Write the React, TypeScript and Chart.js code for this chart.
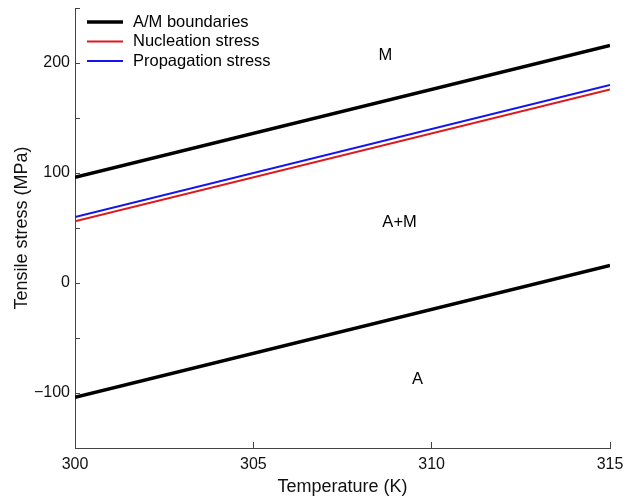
import React, { useEffect, useRef } from "react";
import { Chart, registerables } from "chart.js";

Chart.register(...registerables);

const temperatures = [300, 315];
const upperBoundary = [96, 216];
const lowerBoundary = [-104, 16];
const nucleationStress = [56, 176];
const propagationStress = [60, 180];

const regionLabels = ["M", "A+M", "A"];
const regionX = [308.7, 309.1, 309.6];
const regionY = [207, 55, -88];

const yTickValues = [-150, -100, -50, 0, 50, 100, 150, 200, 250];
const xTickValues = [300, 305, 310, 315];

const FONT = "'Liberation Sans', Arial, Helvetica, sans-serif";

const toPoints = (ys: number[]) => temperatures.map((x, i) => ({ x, y: ys[i] }));

const overlayPlugin = {
  id: "overlay",
  afterDatasetsDraw(chart: any) {
    const ctx = chart.ctx;
    const xs = chart.scales.x;
    const ys = chart.scales.y;
    ctx.save();
    ctx.fillStyle = "#000";
    ctx.font = `16.5px ${FONT}`;
    ctx.textAlign = "center";
    ctx.textBaseline = "middle";
    regionLabels.forEach((t, i) => {
      ctx.fillText(t, xs.getPixelForValue(regionX[i]), ys.getPixelForValue(regionY[i]));
    });
    const items = chart.data.datasets.filter((d: any) => d.showInLegend);
    const left = chart.chartArea.left + 12;
    let y = chart.chartArea.top + 14;
    items.forEach((d: any) => {
      ctx.strokeStyle = d.borderColor;
      ctx.lineWidth = d.legendWidth;
      ctx.beginPath();
      ctx.moveTo(left, y);
      ctx.lineTo(left + 36, y);
      ctx.stroke();
      ctx.fillStyle = "#000";
      ctx.textAlign = "left";
      ctx.textBaseline = "middle";
      ctx.font = `16.5px ${FONT}`;
      ctx.fillText(d.label, left + 46, y);
      y += 19.5;
    });
    ctx.restore();
  },
};

export default function App() {
  const ref = useRef<HTMLCanvasElement>(null);
  useEffect(() => {
    document.body.style.margin = "0";
    const canvas = ref.current!;
    const chart = new Chart(canvas, {
      type: "line",
      data: {
        datasets: [
          {
            label: "A/M boundaries",
            data: toPoints(upperBoundary),
            borderColor: "#000000",
            borderWidth: 3.5,
            pointRadius: 0,
            showInLegend: true,
            legendWidth: 3.5,
          } as any,
          {
            label: "Nucleation stress",
            data: toPoints(nucleationStress),
            borderColor: "#e0181c",
            borderWidth: 2,
            pointRadius: 0,
            showInLegend: true,
            legendWidth: 2,
          } as any,
          {
            label: "Propagation stress",
            data: toPoints(propagationStress),
            borderColor: "#1414f0",
            borderWidth: 2,
            pointRadius: 0,
            showInLegend: true,
            legendWidth: 2,
          } as any,
          {
            label: "A/M boundary (lower)",
            data: toPoints(lowerBoundary),
            borderColor: "#000000",
            borderWidth: 3.5,
            pointRadius: 0,
            showInLegend: false,
          } as any,
        ],
      },
      options: {
        animation: false,
        responsive: false,
        maintainAspectRatio: false,
        layout: { padding: { top: 8, right: 22, left: 0, bottom: 0 } },
        plugins: { legend: { display: false }, tooltip: { enabled: false } },
        scales: {
          x: {
            type: "linear",
            min: 300,
            max: 315,
            afterBuildTicks: (s: any) => {
              s.ticks = xTickValues.map((v) => ({ value: v }));
            },
            afterFit: (s: any) => {
              s.height = 48;
              s.paddingLeft = 0;
              s.paddingRight = 0;
            },
            grid: {
              drawOnChartArea: false,
              tickLength: -6,
              color: "#444",
            },
            border: { color: "#444", width: 1 },
            ticks: {
              color: "#111",
              font: { family: FONT, size: 16 },
              padding: 13,
              maxRotation: 0,
            },
            title: {
              display: true,
              text: "Temperature (K)",
              color: "#111",
              font: { family: FONT, size: 18, lineHeight: 1 },
              padding: { top: 0, bottom: 0 },
            },
          },
          y: {
            type: "linear",
            min: -150,
            max: 250,
            afterBuildTicks: (s: any) => {
              s.ticks = yTickValues.map((v) => ({ value: v }));
            },
            afterFit: (s: any) => {
              s.width = 75;
              s.paddingTop = 0;
              s.paddingBottom = 0;
            },
            grid: {
              drawOnChartArea: false,
              tickLength: -5,
              color: "#444",
            },
            border: { color: "#444", width: 1 },
            ticks: {
              color: "#111",
              font: { family: FONT, size: 16 },
              padding: 10,
              callback: (v: any) =>
                Number(v) % 100 === 0
                  ? Number(v) < 0
                    ? "\u2212" + Math.abs(Number(v))
                    : String(v)
                  : "",
            },
            title: {
              display: true,
              text: "Tensile stress (MPa)",
              color: "#111",
              font: { family: FONT, size: 18, lineHeight: 1 },
              padding: { top: 13, bottom: 0 },
            },
          },
        },
      },
      plugins: [overlayPlugin],
    } as any);
    return () => chart.destroy();
  }, []);
  return (
    <div style={{ width: 632, height: 496 }}>
      <canvas ref={ref} width={632} height={496} style={{ display: "block" }} />
    </div>
  );
}
